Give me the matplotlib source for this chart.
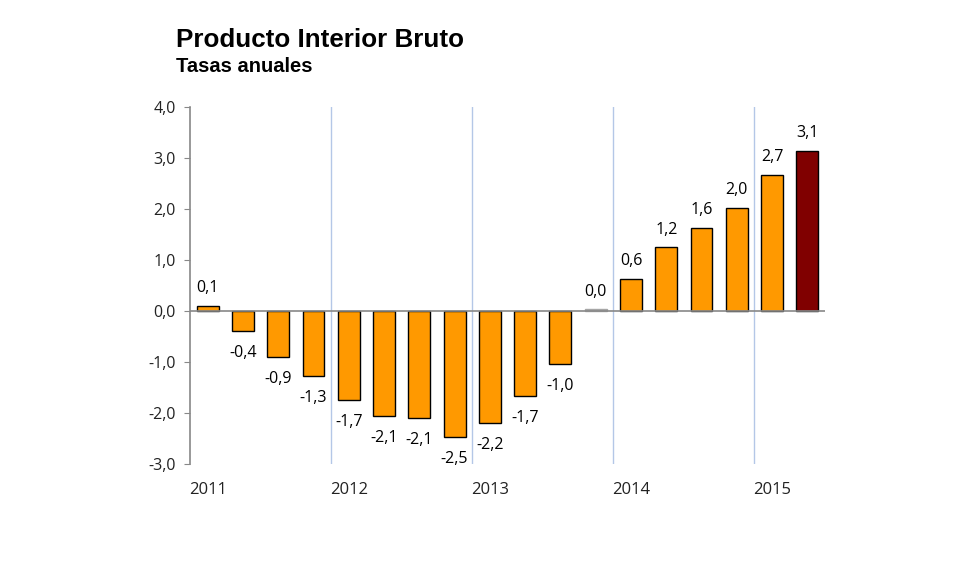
import matplotlib
matplotlib.use("Agg")
import matplotlib.pyplot as plt
import numpy as np

quarters = ["2011T1","2011T2","2011T3","2011T4","2012T1","2012T2","2012T3","2012T4",
            "2013T1","2013T2","2013T3","2013T4","2014T1","2014T2","2014T3","2014T4",
            "2015T1","2015T2"]
values = [0.1, -0.4, -0.9, -1.3, -1.7, -2.1, -2.1, -2.5, -2.2, -1.7, -1.0, 0.0,
          0.6, 1.2, 1.6, 2.0, 2.7, 3.1]
bar_heights = [0.1, -0.39, -0.9, -1.27, -1.74, -2.06, -2.1, -2.47, -2.2, -1.67, -1.04, 0.03,
               0.63, 1.25, 1.63, 2.02, 2.67, 3.14]
year_labels = ["2011", "2012", "2013", "2014", "2015"]
yticks = [-3, -2, -1, 0, 1, 2, 3, 4]

plt.rcParams['font.family'] = ['Open Sans', 'DejaVu Sans']

fig = plt.figure(figsize=(9.57, 5.73), dpi=100)
ax = fig.add_axes([190/957, 1-464/573, (825-190)/957, (464-107)/573])

n = len(bar_heights)
x = np.arange(n)
colors = ['#FF9900'] * n
colors[-1] = '#800000'
colors[11] = '#A6A6A6'
edges = ['black'] * n
edges[11] = '#A6A6A6'
ax.bar(x, bar_heights, width=0.62, color=colors, edgecolor=edges, linewidth=1.0, zorder=3)

for i, (v, h) in enumerate(zip(values, bar_heights)):
    txt = f"{v:.1f}".replace('.', ',')
    if h >= 0:
        ax.annotate(txt, (i, max(h, 0)), xytext=(0, 7), textcoords='offset points',
                    ha='center', va='bottom', fontsize=11.5, color='black')
    else:
        ax.annotate(txt, (i, h), xytext=(0, -10), textcoords='offset points',
                    ha='center', va='top', fontsize=11.5, color='black')

ax.set_xlim(-0.5, n - 0.5)
ax.set_ylim(-3, 4)
for b in [3.5, 7.5, 11.5, 15.5]:
    ax.axvline(b, color='#B4C7E7', linewidth=1.0, zorder=1)
ax.axhline(0, color='#888888', linewidth=1.2, zorder=4)

ax.set_yticks(yticks)
ax.set_yticklabels([f"{t:.1f}".replace('.', ',') for t in yticks], fontsize=11.5, color='#222222')
ax.tick_params(axis='y', length=4, color='#888888', pad=6)
ax.set_xticks([])
for s in ['top', 'right', 'bottom']:
    ax.spines[s].set_visible(False)
ax.spines['left'].set_color('#888888')
ax.spines['left'].set_linewidth(1.2)

for k, yl in enumerate(year_labels):
    ax.annotate(yl, (4 * k, -3), xytext=(0, -19), textcoords='offset points',
                ha='center', va='center', fontsize=12, color='#222222')

fig.text(176/957, 1-40/573, "Producto Interior Bruto", fontsize=18.7, fontweight='bold',
         family='Liberation Sans', va='center', ha='left')
fig.text(176/957, 1-67/573, "Tasas anuales", fontsize=14.5, fontweight='bold',
         family='Liberation Sans', va='center', ha='left')

fig.savefig("out.png", dpi=100)
